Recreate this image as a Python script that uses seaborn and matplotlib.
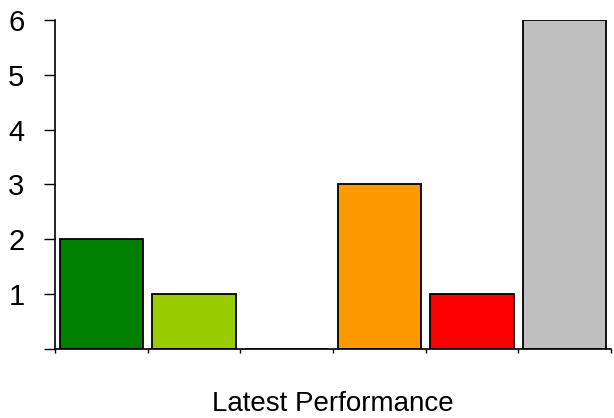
import matplotlib
matplotlib.use("Agg")
import matplotlib.pyplot as plt
import seaborn as sns
import pandas as pd
import numpy as np

# Rating categories, counts and fill colours
categories = ["Excellent", "Good", "Satisfactory", "Fair", "Poor", "Not rated"]
counts = [2, 1, 0, 3, 1, 6]
colors = ["#008000", "#99CC00", "#FFFF00", "#FF9900", "#FF0000", "#C0C0C0"]
y_ticks = [0, 1, 2, 3, 4, 5, 6]
y_labels = ["", "1", "2", "3", "4", "5", "6"]

sns.set_theme(style="white")
plt.rcParams["font.family"] = ["Liberation Sans", "DejaVu Sans"]

df = pd.DataFrame({"category": categories, "count": counts})

fig = plt.figure(figsize=(6.14, 4.18), dpi=100)
ax = fig.add_axes([55 / 614, 69 / 418, 556 / 614, 329 / 418])

sns.barplot(data=df, x="category", y="count", hue="category", palette=colors,
            legend=False, width=0.9, edgecolor="black", linewidth=1.3,
            saturation=1, ax=ax)

ax.set_xlim(-0.5, len(categories) - 0.5)
ax.set_ylim(0, 6)
ax.set_yticks(y_ticks)
ax.set_yticklabels(y_labels, fontsize=21, color="black")

# tick marks sit between the categories
ax.set_xticks(np.arange(-0.5, len(categories)), minor=True)
ax.set_xticks([])
ax.tick_params(axis="x", which="minor", bottom=True, direction="out",
               length=3, width=1, color="black")
ax.tick_params(axis="y", which="major", left=True, direction="out",
               length=8, width=1, color="black", pad=14)

for side in ["top", "right"]:
    ax.spines[side].set_visible(False)
for side in ["left", "bottom"]:
    ax.spines[side].set_color("black")
    ax.spines[side].set_linewidth(1.2)

ax.set_xlabel("Latest Performance", fontsize=20, color="black", labelpad=24)
ax.set_ylabel("")

fig.savefig("out.png", dpi=100, facecolor="white")
